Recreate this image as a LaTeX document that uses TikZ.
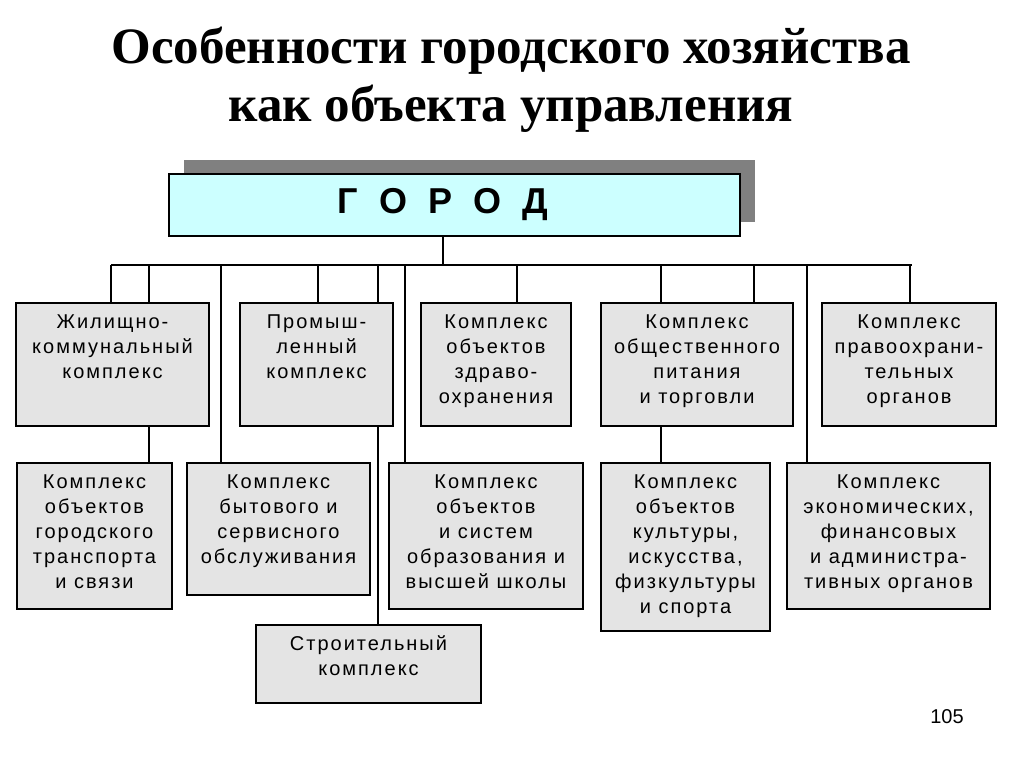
\documentclass[tikz,border=0pt]{standalone}
\usepackage{fontspec}
\setmainfont{Liberation Sans}
\newfontfamily\titlefont{Liberation Serif}
\newfontfamily\cellfont{Liberation Sans}[LetterSpace=10]
\usetikzlibrary{shadows}
\newlength\px
\setlength\px{0.75pt}
\definecolor{cellgray}{HTML}{E4E4E4}
\definecolor{citycyan}{HTML}{CCFFFF}
\definecolor{shadegray}{HTML}{808080}
%% text block of a box: width, height, lines
\newcommand{\cellbox}[3]{\parbox[t][#2\px][t]{#1\px}{\centering\vspace*{8\px}\strut#3}}
\begin{document}
\begin{tikzpicture}[x=1\px,y=-1\px,
cell/.style={%
draw,
fill=cellgray,
line width=1.5pt,
inner sep=0pt,
anchor=north west,
font=\cellfont\fontsize{15}{18.75}\selectfont
},
link/.style={line width=1.2pt}
]
\useasboundingbox(0,0)rectangle(1024,767);
%% Title
\node[font=\titlefont\bfseries\fontsize{38.25}{43.5}\selectfont,align=center]at(511,80)(title){Особенности городского хозяйства\\как объекта управления};
%% City box
\node[draw,fill=citycyan,line width=1.5pt,inner sep=0pt,anchor=north west,
drop shadow={fill=shadegray,opacity=1,shadow xshift=15\px,shadow yshift=14\px},
font=\bfseries\fontsize{27}{30}\selectfont]at(168,173)(gorod){\parbox[c][62\px][c]{571\px}{\centering\hspace*{-23\px}Г\hspace{21\px}О\hspace{21\px}Р\hspace{21\px}О\hspace{21\px}Д}};
%% First row
\node[cell]at(15,302)(jkh){\cellbox{193}{123}{Жилищно-\\коммунальный\\комплекс}};
\node[cell]at(239,302)(prom){\cellbox{153}{123}{Промыш-\\ленный\\комплекс}};
\node[cell]at(420,302)(zdrav){\cellbox{150}{123}{Комплекс\\объектов\\здраво-\\охранения}};
\node[cell]at(600,302)(pit){\cellbox{192}{123}{Комплекс\\общественного\\питания\\и торговли}};
\node[cell]at(821,302)(pravo){\cellbox{174}{123}{Комплекс\\правоохрани-\\тельных\\органов}};
%% Second row
\node[cell]at(16,462)(trans){\cellbox{155}{146}{Комплекс\\объектов\\городского\\транспорта\\и связи}};
\node[cell]at(186,462)(byt){\cellbox{183}{132}{Комплекс\\бытового и\\сервисного\\обслуживания}};
\node[cell]at(388,462)(obraz){\cellbox{194}{146}{Комплекс\\объектов\\и систем\\образования и\\высшей школы}};
\node[cell]at(600,462)(kult){\cellbox{169}{168}{Комплекс\\объектов\\культуры,\\искусства,\\физкультуры\\и спорта}};
\node[cell]at(786,462)(econ){\cellbox{203}{146}{Комплекс\\экономических,\\финансовых\\и администра-\\тивных органов}};
%% Third row
\node[cell]at(255,624)(stroi){\cellbox{225}{78}{Строительный\\комплекс}};
%% Bus
\coordinate(trunk)at(443,265);
\coordinate(busL)at(111,265);
\coordinate(busR)at(912,265);
\draw[link](gorod.south -| trunk)--(trunk);
\draw[link](busL)--(busR);
\foreach \x/\b in {111/jkh,149/jkh,318/prom,378/prom,517/zdrav,661/pit,754/pit,910/pravo,221/byt,405/obraz,807/econ}
\draw[link](\x,0 |- busL)--(\x,0 |- \b.north);
%% Lower links
\draw[link](jkh.south -| 149,0)--(trans.north -| 149,0);
\draw[link](prom.south -| 378,0)--(stroi.north -| 378,0);
\draw[link](pit.south -| 661,0)--(kult.north -| 661,0);
%% Page number
\node[font=\fontsize{15}{18}\selectfont]at(947,717)(pagenum){105};
\end{tikzpicture}
\end{document}
